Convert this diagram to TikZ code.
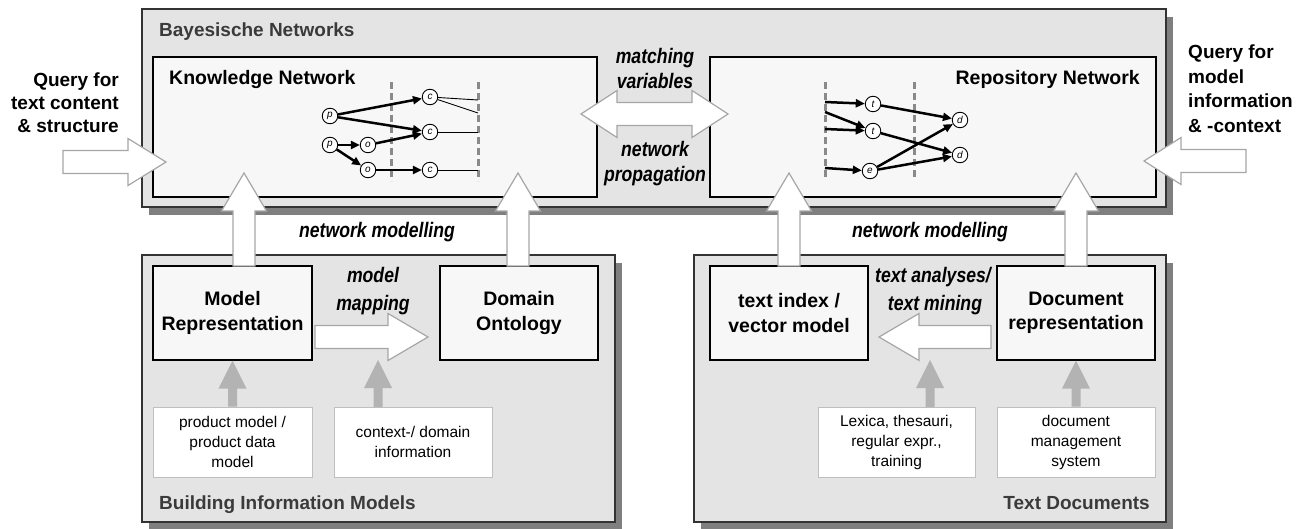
\documentclass[tikz,border=0pt]{standalone}
\usepackage{fontspec}
\setmainfont{Liberation Sans}
\usepackage{graphicx}
\usetikzlibrary{calc,shadows,arrows.meta}

\definecolor{outerfill}{HTML}{E4E4E4}
\definecolor{outerline}{HTML}{333333}
\definecolor{innerfill}{HTML}{F7F7F7}
\definecolor{shadowgray}{HTML}{7F7F7F}
\definecolor{smallline}{HTML}{BFBFBF}
\definecolor{arrowline}{HTML}{A6A6A6}
\definecolor{arrowgray}{HTML}{B3B3B3}
\definecolor{dashgray}{HTML}{8A8A8A}
\definecolor{labelgray}{HTML}{3A3A3A}

\newcommand\cond[1]{\scalebox{0.84}[1]{#1}}

% block arrow: style, from, to, half body width, half head width, head length
\newcommand\blockarrow[6]{%
  \path ($(#3)!#6!(#2)$) coordinate (bac);
  \draw[#1] ($(#2)!#4!90:(#3)$) -- ($(bac)!#4!90:(#3)$) -- ($(bac)!#5!90:(#3)$) -- (#3)
    -- ($(bac)!#5!-90:(#3)$) -- ($(bac)!#4!-90:(#3)$) -- ($(#2)!#4!-90:(#3)$) -- cycle;
}
% double block arrow: style, A, B, half body, half head, head length
\newcommand\dblarrow[6]{%
  \path ($(#2)!#6!(#3)$) coordinate (dbA) ($(#3)!#6!(#2)$) coordinate (dbB);
  \draw[#1] (#2) -- ($(dbA)!#5!90:(#3)$) -- ($(dbA)!#4!90:(#3)$) -- ($(dbB)!#4!-90:(#2)$)
    -- ($(dbB)!#5!-90:(#2)$) -- (#3) -- ($(dbB)!#5!90:(#2)$) -- ($(dbB)!#4!90:(#2)$)
    -- ($(dbA)!#4!-90:(#3)$) -- ($(dbA)!#5!-90:(#3)$) -- cycle;
}

\begin{document}
\begin{tikzpicture}[x=1pt,y=-1pt,
  group/.style={draw=outerline,line width=1.5pt,fill=outerfill,
    drop shadow={shadow xshift=7pt,shadow yshift=-8pt,fill=shadowgray,opacity=1}},
  innerbox/.style={draw=black,line width=1.3pt,fill=innerfill,inner sep=0pt,align=center,
    font=\fontsize{19.5}{24.5}\selectfont\bfseries},
  smallbox/.style={draw=smallline,line width=1pt,fill=white,inner sep=0pt,align=center,
    minimum height=70pt,font=\fontsize{15.5}{20}\selectfont},
  grouplabel/.style={inner sep=0pt,text=labelgray,font=\fontsize{19}{23}\selectfont\bfseries},
  heading/.style={inner sep=0pt,font=\fontsize{19.5}{24}\selectfont\bfseries},
  query/.style={inner sep=0pt,font=\fontsize{19}{24}\selectfont\bfseries},
  ital/.style={inner sep=0pt,align=center,font=\fontsize{21}{25}\selectfont\bfseries\itshape},
  netnode/.style={circle,draw,line width=0.9pt,fill=white,minimum size=15.5pt,inner sep=0pt,
    font=\fontsize{10}{10}\selectfont\itshape},
  netedge/.style={line width=2.5pt,-{Triangle[length=9pt,width=8pt]}},
  thinline/.style={line width=0.9pt},
  vdash/.style={draw=dashgray,line width=3pt,dash pattern=on 7pt off 4pt},
  whitearrow/.style={fill=white,draw=arrowline,line width=1.2pt,line join=miter},
  grayarrow/.style={fill=arrowgray,draw=none}
]
\useasboundingbox (0,0) rectangle (1308,529);

% ---------- group boxes ----------
\node[group,minimum width=1024pt,minimum height=198pt] (bn) at (654,108) {};
\node[group,minimum width=473pt,minimum height=267pt] (bim) at (378.5,388.5) {};
\node[group,minimum width=472pt,minimum height=267pt] (td) at (930,388.5) {};

\node[grouplabel,anchor=base west] (bnl) at (159,37) {Bayesische Networks};
\node[grouplabel,anchor=base west] (biml) at (159,509) {Building Information Models};
\node[grouplabel,anchor=base east] (tdl) at (1150,509) {Text Documents};

% ---------- network boxes ----------
\node[innerbox,minimum width=444pt,minimum height=140pt] (kn) at (375,127) {};
\node[innerbox,minimum width=446pt,minimum height=140pt] (rn) at (933,127) {};
\node[heading,anchor=base west] (knl) at (169,85) {Knowledge Network};
\node[heading,anchor=base east] (rnl) at (1140,85) {Repository Network};

% ---------- knowledge network ----------
\draw[vdash] (391,82) coordinate (kd1a) -- (391,181) coordinate (kd1b);
\draw[vdash] (478,82) coordinate (kd2a) -- (478,181) coordinate (kd2b);
\node[netnode] (p1) at (330,116) {p};
\node[netnode] (p2) at (330,145) {p};
\node[netnode] (o1) at (368,145) {o};
\node[netnode] (o2) at (368,170) {o};
\node[netnode] (c1) at (430,97) {c};
\node[netnode] (c2) at (430,132) {c};
\node[netnode] (c3) at (430,170) {c};
\coordinate (k1) at (478,100);
\coordinate (k2) at (478,113);
\coordinate (k3) at (478,132);
\coordinate (k4) at (478,170);
\draw[netedge] (p1) -- (c1);
\draw[netedge] (p1) -- (c2);
\draw[netedge] (p2) -- (o1);
\draw[netedge] (o1) -- (c2);
\draw[netedge] (p2) -- (o2);
\draw[netedge] (o2) -- (c3);
\draw[thinline] (c1) -- (k1);
\draw[thinline] (c1) -- (k2);
\draw[thinline] (c2) -- (k3);
\draw[thinline] (c3) -- (k4);

% ---------- repository network ----------
\draw[vdash] (825,82) coordinate (rd1a) -- (825,179) coordinate (rd1b);
\draw[vdash] (914,82) coordinate (rd2a) -- (914,179) coordinate (rd2b);
\node[netnode] (t1) at (873,104) {t};
\node[netnode] (t2) at (873,131) {t};
\node[netnode] (e1) at (870,171) {e};
\node[netnode] (d1) at (960,120) {d};
\node[netnode] (d2) at (960,155) {d};
\coordinate (r1) at (825,102);
\coordinate (r2) at (825,112);
\coordinate (r3) at (825,129);
\coordinate (r4) at (825,168);
\draw[netedge] (r1) -- (t1);
\draw[netedge] (r2) -- (t2);
\draw[netedge] (r3) -- (t2);
\draw[netedge] (r4) -- (e1);
\draw[netedge] (t1) -- (d1);
\draw[netedge] (t2) -- (d2);
\draw[netedge] (e1) -- (d1);
\draw[netedge] (e1) -- (d2);

% ---------- lower boxes ----------
\node[innerbox,minimum width=159pt,minimum height=94pt] (mr) at (232.5,313) {Model\\Representation};
\node[innerbox,minimum width=158pt,minimum height=94pt] (do) at (519,313) {Domain\\Ontology};
\node[innerbox,minimum width=158pt,minimum height=94pt] (ti) at (789,313) {text index /\\vector model};
\node[innerbox,minimum width=158pt,minimum height=94pt] (dr) at (1076,313) {Document\\representation};

\node[smallbox,minimum width=159pt] (pm) at (232.5,442) {product model /\\product data\\model};
\node[smallbox,minimum width=158pt] (cd) at (413,442) {context-/ domain\\information};
\node[smallbox,minimum width=157pt] (lx) at (896.5,442) {Lexica, thesauri,\\regular expr.,\\training};
\node[smallbox,minimum width=158pt] (dm) at (1076,442) {document\\management\\system};

% ---------- gray input arrows ----------
\coordinate (g2a) at (378,407);  \coordinate (g2b) at (378,360);
\coordinate (g3a) at (930,407);  \coordinate (g3b) at (930,360);
\blockarrow{grayarrow}{pm.north}{mr.south}{4.5pt}{14pt}{28pt}
\blockarrow{grayarrow}{g2a}{g2b}{4.5pt}{14pt}{28pt}
\blockarrow{grayarrow}{g3a}{g3b}{4.5pt}{14pt}{28pt}
\blockarrow{grayarrow}{dm.north}{dr.south}{4.5pt}{14pt}{28pt}

% ---------- horizontal block arrows in lower groups ----------
\coordinate (mapA) at (315,337);  \coordinate (mapB) at (428,337);
\coordinate (tmA) at (991,337);   \coordinate (tmB) at (879,337);
\blockarrow{whitearrow}{mapA}{mapB}{11.5pt}{23.5pt}{40pt}
\blockarrow{whitearrow}{tmA}{tmB}{11.5pt}{23.5pt}{40pt}

\node[ital,anchor=base] (mml) at (373,282) {\cond{model}};
\node[ital,anchor=base] (mmp) at (373,310) {\cond{mapping}};
\node[ital,anchor=base] (tal) at (933,282) {\cond{text analyses/}};
\node[ital,anchor=base] (tml) at (935,310) {\cond{text mining}};

% ---------- network modelling arrows ----------
\coordinate (u1a) at (244,266);  \coordinate (u1b) at (244,173);
\coordinate (u2a) at (518,266);  \coordinate (u2b) at (518,173);
\coordinate (u3a) at (789,266);  \coordinate (u3b) at (789,173);
\coordinate (u4a) at (1076,266); \coordinate (u4b) at (1076,173);
\blockarrow{whitearrow}{u1a}{u1b}{11pt}{22.5pt}{38pt}
\blockarrow{whitearrow}{u2a}{u2b}{11pt}{22.5pt}{38pt}
\blockarrow{whitearrow}{u3a}{u3b}{11pt}{22.5pt}{38pt}
\blockarrow{whitearrow}{u4a}{u4b}{11pt}{22.5pt}{38pt}
\node[ital,anchor=base] (nml) at (377,238) {\cond{network modelling}};
\node[ital,anchor=base] (nmr) at (930,238) {\cond{network modelling}};

% ---------- matching / propagation ----------
\coordinate (mvA) at (581,114); \coordinate (mvB) at (728,114);
\dblarrow{whitearrow}{mvA}{mvB}{11.5pt}{23.5pt}{36pt}
\node[ital,anchor=base] (mv1) at (655,64) {\cond{matching}};
\node[ital,anchor=base] (mv2) at (655,89) {\cond{variables}};
\node[ital,anchor=base] (np1) at (655,157) {\cond{network}};
\node[ital,anchor=base] (np2) at (655,182) {\cond{propagation}};

% ---------- queries ----------
\coordinate (qlA) at (63,162);   \coordinate (qlB) at (166,162);
\coordinate (qrA) at (1246,161); \coordinate (qrB) at (1144,161);
\blockarrow{whitearrow}{qlA}{qlB}{11.5pt}{23.5pt}{38pt}
\blockarrow{whitearrow}{qrA}{qrB}{11.5pt}{23.5pt}{37pt}
\node[query,anchor=base east] (ql1) at (119,87) {Query for};
\node[query,anchor=base east] (ql2) at (119,110) {text content};
\node[query,anchor=base east] (ql3) at (119,133) {\& structure};
\node[query,anchor=base west] (qr1) at (1188,59) {Query for};
\node[query,anchor=base west] (qr2) at (1188,84) {model};
\node[query,anchor=base west] (qr3) at (1188,108) {information};
\node[query,anchor=base west] (qr4) at (1188,133) {\& -context};
\end{tikzpicture}
\end{document}
